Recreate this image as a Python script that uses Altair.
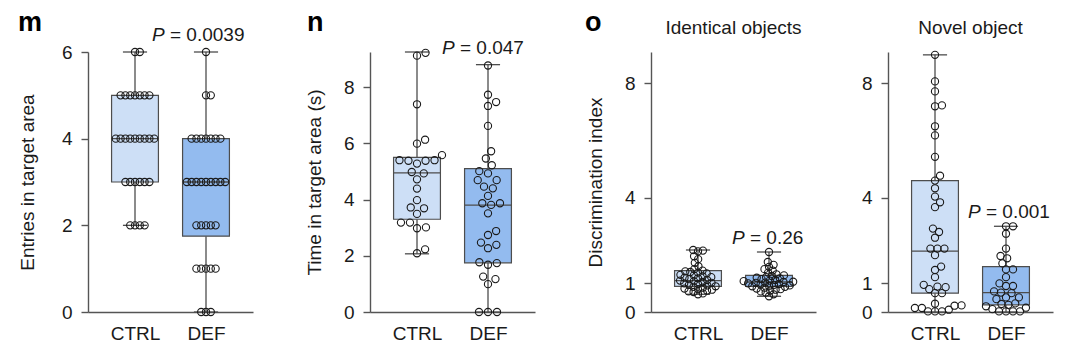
import math
import altair as alt
import pandas as pd

# ---------------- data ----------------
GROUPS = ["CTRL", "DEF"]

# panel m: entries in target area
M_CTRL = [6, 6, 5, 5, 5, 5, 5, 5, 5, 4, 4, 4, 4, 4, 4, 4, 4, 4, 3, 3, 3, 3, 3, 3, 2, 2, 2, 2]
M_DEF = [6, 5, 5, 4, 4, 4, 4, 4, 4, 4, 3, 3, 3, 3, 3, 3, 3, 3, 3, 2, 2, 2, 2, 2,
         1, 1, 1, 1, 1, 0, 0, 0]
M_Q1 = [3, 1.75]
M_MED = [4, 3]
M_Q3 = [5, 4]
M_MIN = [2, 0]
M_MAX = [6, 6]

# panel n: time in target area (s)
N_CTRL = [9.22, 9.12, 7.39, 6.13, 5.99, 5.40, 5.38, 5.40, 5.28, 5.38, 5.58, 4.98, 4.93,
          4.72, 4.39, 3.98, 3.69, 3.72, 3.49, 3.01, 3.18, 2.98, 3.18, 2.09, 2.23]
N_DEF = [8.77, 7.73, 7.33, 7.47, 6.62, 5.72, 5.46, 5.22, 5.01, 4.93, 4.69, 4.69, 4.46,
         4.40, 4.13, 3.81, 3.87, 3.87, 3.51, 2.74, 2.88, 2.39, 2.47, 2.27, 1.74, 1.68,
         1.77, 1.17, 0.99, 1.26, 0.0, 0.0, 0.0]
N_Q1 = [3.3, 1.75]
N_MED = [4.95, 3.8]
N_Q3 = [5.5, 5.1]
N_MIN = [2.07, 0.0]
N_MAX = [9.25, 8.8]

# panel o (left): identical objects, discrimination index
O1_CTRL = [2.17, 2.15, 2.12, 1.95, 1.85, 1.72, 1.6, 1.5, 1.45, 1.42, 1.4, 1.38, 1.35, 1.3,
           1.28, 1.25, 1.22, 1.2, 1.18, 1.15, 1.12, 1.1, 1.08, 1.05, 1.02, 1.0, 0.98,
           0.95, 0.93, 0.9, 0.88, 0.85, 0.82, 0.8, 0.78, 0.75, 0.72, 0.7, 0.65, 0.62]
O1_DEF = [2.1, 1.75, 1.65, 1.58, 1.5, 1.45, 1.38, 1.32, 1.28, 1.26, 1.22, 1.2, 1.18, 1.15,
          1.12, 1.1, 1.08, 1.06, 1.05, 1.03, 1.02, 1.0, 0.98, 0.96, 0.95, 0.93, 0.92,
          0.9, 0.88, 0.85, 0.82, 0.8, 0.78, 0.75, 0.72, 0.68, 0.62, 0.55]
O1_Q1 = [0.9, 0.9]
O1_MED = [1.1, 1.05]
O1_Q3 = [1.45, 1.28]
O1_MIN = [0.62, 0.55]
O1_MAX = [2.17, 2.1]

# panel o (right): novel object, discrimination index
O2_CTRL = [9.0, 8.07, 7.72, 7.2, 7.23, 6.5, 6.18, 5.43, 4.77, 4.6, 4.33, 4.04, 3.84, 3.67,
           2.92, 2.80, 2.60, 2.22, 2.22, 2.22, 1.99, 1.59, 1.47, 1.22, 0.89, 0.95, 0.87,
           0.80, 0.66, 0.66, 0.08, 0.29, 0.14, 0.23, 0.02, 0.22, 0.02, 0.14, 0.02]
O2_DEF = [3.0, 3.0, 2.74, 2.22, 1.96, 1.88, 1.49, 1.70, 1.49, 0.72, 1.22, 1.0, 0.91, 0.91,
          0.68, 0.66, 0.51, 0.51, 0.45, 0.02, 0.25, 0.02, 0.2, 0.02, 0.1, 0.28, 0.02,
          0.3, 0.15]
O2_Q1 = [0.66, 0.25]
O2_MED = [2.13, 0.68]
O2_Q3 = [4.6, 1.59]
O2_MIN = [0.0, 0.0]
O2_MAX = [9.0, 3.0]

# ---------------- style ----------------
FONT = "Liberation Sans"
FS = 19
CTRL_FILL = "#cddff6"
DEF_FILL = "#93bbef"
EDGE = "#4d4d4d"
AXIS_C = "#555555"
TEXT_C = "#1a1a1a"

W = 165
H = 260
PX_X = 71.0
XDOM = [1 - 47 / PX_X, 1 + (W - 47) / PX_X]
HALF_BOX = 0.33
HALF_CAP = 0.17


def swarm(values, ppu, d):
    placed = []
    out = [0.0] * len(values)
    order = sorted(range(len(values)), key=lambda i: values[i])
    for i in order:
        y = values[i] * ppu
        cands = [0.0]
        for xp, yp in placed:
            dy = abs(y - yp)
            if dy < d:
                dx = math.sqrt(d * d - dy * dy)
                cands += [xp + dx, xp - dx]
        ok = [c for c in cands
              if all((c - xp) ** 2 + (y - yp) ** 2 >= d * d - 1e-6 for xp, yp in placed)]
        best = min(ok, key=lambda c: (abs(c), -c))
        placed.append((best, y))
        out[i] = best / PX_X
    return out


def panel(ctrl, deff, q1, med, q3, mn, mx, ymax, yticks, ytitle, tpad, d,
          letter=None, ptext=None, pxy=None, head=None):
    ppu = H / ymax
    xs = alt.Scale(domain=XDOM, nice=False, zero=False)
    ys = alt.Scale(domain=[0, ymax], nice=False, zero=False)
    xaxis = alt.Axis(values=[1, 2], labelExpr="datum.value == 1 ? 'CTRL' : 'DEF'",
                     ticks=False, grid=False, title="", labelFontSize=FS,
                     labelColor=TEXT_C, labelPadding=12, domainColor=AXIS_C,
                     domainWidth=1.4, labelFont=FONT)
    yaxis = alt.Axis(values=yticks, grid=False, title=ytitle, tickSize=7,
                     tickColor=AXIS_C, tickWidth=1.4, domainColor=AXIS_C,
                     domainWidth=1.4, labelFontSize=FS, labelColor=TEXT_C,
                     labelPadding=9, titleFontSize=FS, titleFontWeight="normal",
                     titleColor=TEXT_C, titlePadding=tpad, labelFont=FONT,
                     titleFont=FONT, format="d")

    def X(f):
        return alt.X(f, scale=xs, axis=xaxis)

    def Y(f):
        return alt.Y(f, scale=ys, axis=yaxis)

    offs = swarm(ctrl, ppu, d) + swarm(deff, ppu, d)
    grp = [1] * len(ctrl) + [2] * len(deff)
    pts = pd.DataFrame({
        "grp": grp,
        "val": list(ctrl) + list(deff),
        "xp": [g + o for g, o in zip(grp, offs)],
    })

    box = pd.DataFrame({"grp": [1, 2], "q1": q1, "med": med, "q3": q3,
                        "mn": mn, "mx": mx})
    base = alt.Chart(box).transform_calculate(
        b1=f"datum.grp - {HALF_BOX}", b2=f"datum.grp + {HALF_BOX}",
        c1=f"datum.grp - {HALF_CAP}", c2=f"datum.grp + {HALF_CAP}")

    whisk_lo = base.mark_rule(color=EDGE, strokeWidth=1.3).encode(
        x=X("grp:Q"), y=Y("mn:Q"), y2="q1:Q")
    whisk_hi = base.mark_rule(color=EDGE, strokeWidth=1.3).encode(
        x=X("grp:Q"), y=Y("q3:Q"), y2="mx:Q")
    cap_lo = base.mark_rule(color=EDGE, strokeWidth=1.3).encode(
        x=X("c1:Q"), x2="c2:Q", y=Y("mn:Q"))
    cap_hi = base.mark_rule(color=EDGE, strokeWidth=1.3).encode(
        x=X("c1:Q"), x2="c2:Q", y=Y("mx:Q"))
    rect = base.mark_rect(stroke=EDGE, strokeWidth=1.2).encode(
        x=X("b1:Q"), x2="b2:Q", y=Y("q1:Q"), y2="q3:Q",
        fill=alt.Fill("grp:N", scale=alt.Scale(domain=[1, 2], range=[CTRL_FILL, DEF_FILL]),
                      legend=None))
    median = base.mark_rule(color=EDGE, strokeWidth=1.3).encode(
        x=X("b1:Q"), x2="b2:Q", y=Y("med:Q"))
    dots = alt.Chart(pts).mark_point(shape="circle", filled=False, color="#1a1a1a",
                                     size=52, strokeWidth=1.1, opacity=1).encode(
        x=X("xp:Q"), y=Y("val:Q"))

    layers = [whisk_lo, whisk_hi, cap_lo, cap_hi, rect, median, dots]
    one = pd.DataFrame({"k": [0]})
    if letter is not None:
        layers.append(alt.Chart(one).mark_text(
            text=letter[0], font=FONT, fontSize=27, fontWeight="bold", align="left",
            baseline="alphabetic", color="#000").encode(
            x=alt.value(letter[1]), y=alt.value(-21.5)))
    if ptext is not None:
        px, py = pxy
        layers.append(alt.Chart(one).mark_text(
            text="P", font=FONT, fontSize=FS, fontStyle="italic", align="left",
            baseline="middle", color=TEXT_C).encode(x=alt.value(px), y=alt.value(py)))
        layers.append(alt.Chart(one).mark_text(
            text="= " + ptext, font=FONT, fontSize=FS, align="left",
            baseline="middle", color=TEXT_C).encode(x=alt.value(px + 18), y=alt.value(py)))
    if head is not None:
        layers.append(alt.Chart(one).mark_text(
            text=head, font=FONT, fontSize=FS, align="center", baseline="middle",
            color=TEXT_C).encode(x=alt.value(W / 2), y=alt.value(-24)))

    return alt.layer(*layers).properties(width=W, height=H)


def spacer(w):
    return alt.Chart(pd.DataFrame({"k": [0]})).mark_point(opacity=0).encode(
        x=alt.value(0), y=alt.value(0)).properties(width=w, height=H)


pm = panel(M_CTRL, M_DEF, M_Q1, M_MED, M_Q3, M_MIN, M_MAX, 6, [0, 2, 4, 6],
           "Entries in target area", 24, 4.8, letter=("m", -70), ptext="0.0039",
           pxy=(64, -17))
pn = panel(N_CTRL, N_DEF, N_Q1, N_MED, N_Q3, N_MIN, N_MAX, 9.25, [0, 2, 4, 6, 8],
           "Time in target area (s)", 19, 9.0, letter=("n", -63), ptext="0.047",
           pxy=(72, -4))
po1 = panel(O1_CTRL, O1_DEF, O1_Q1, O1_MED, O1_Q3, O1_MIN, O1_MAX, 9.1, [0, 1, 4, 8],
            "Discrimination index", 19, 5, letter=("o", -66), ptext="0.26",
            pxy=(81, 186), head="Identical objects")
po2 = panel(O2_CTRL, O2_DEF, O2_Q1, O2_MED, O2_Q3, O2_MIN, O2_MAX, 9.1, [0, 1, 4, 8],
            "", 0, 7.0, ptext="0.001", pxy=(80, 160), head="Novel object")

SP = 20
chart = alt.hconcat(pm, spacer(117 - 2 * SP), pn, spacer(116 - 2 * SP), po1,
                    spacer(72 - 2 * SP), po2, spacing=SP, bounds="flush").properties(
    padding={"left": 10, "top": 0, "right": 5, "bottom": 5}
).configure(font=FONT, background="white").configure_view(strokeWidth=0)

chart.save("out.html", embed_options={"renderer": "svg", "actions": False})
